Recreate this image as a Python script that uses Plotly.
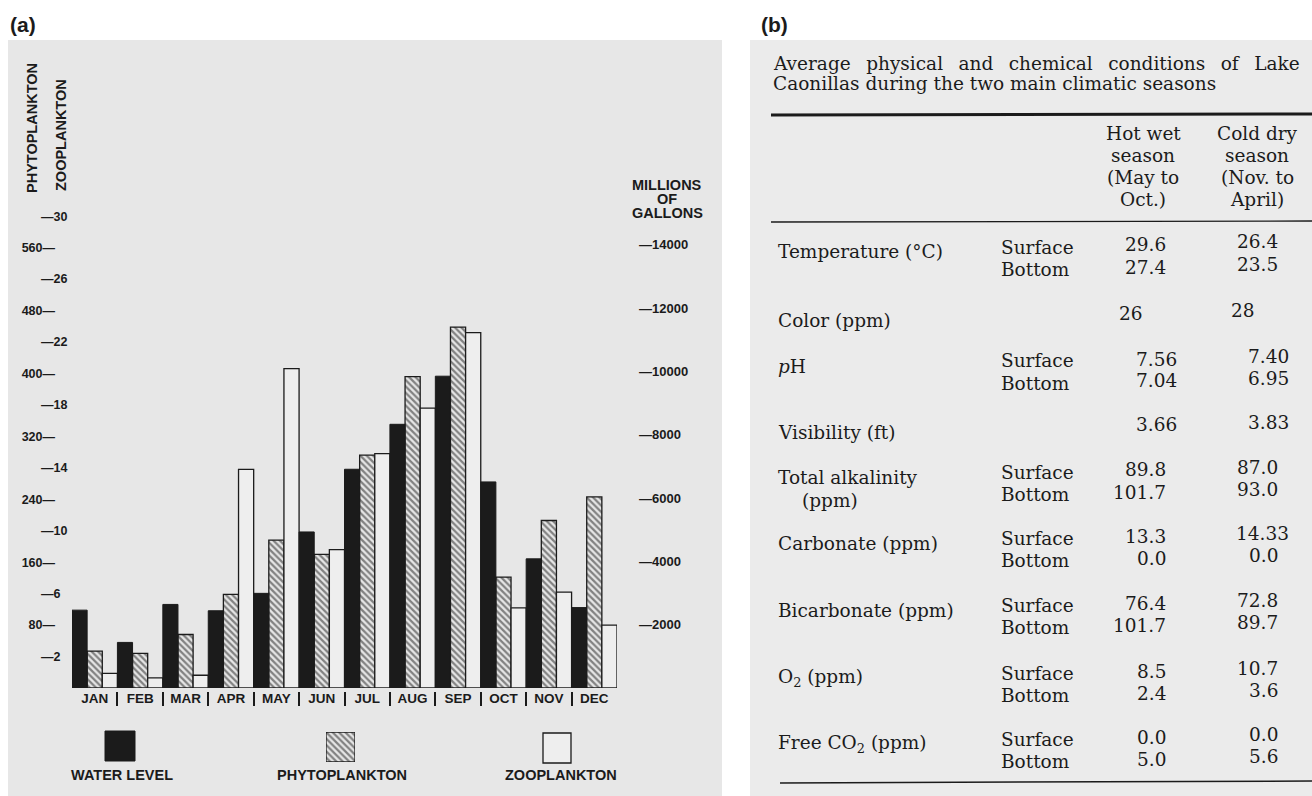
import plotly.graph_objects as go

W, H = 1312, 796

# ---------------- data: panel (a) ----------------
months = ["JAN", "FEB", "MAR", "APR", "MAY", "JUN", "JUL", "AUG", "SEP", "OCT", "NOV", "DEC"]
water_level = [2460, 1440, 2640, 2440, 2990, 4930, 6910, 8330, 9850, 6510, 4080, 2540]   # millions of gallons
phytoplankton = [47, 44, 68, 119, 188, 170, 296, 396, 459, 141, 213, 243]
zooplankton = [0.93, 0.65, 0.81, 13.9, 20.3, 8.8, 14.9, 17.8, 22.6, 5.1, 6.1, 4.0]
phyto_ticks = [80, 160, 240, 320, 400, 480, 560]
zoo_ticks = [2, 6, 10, 14, 18, 22, 26, 30]
water_ticks = [2000, 4000, 6000, 8000, 10000, 12000, 14000]
legend_names = ["WATER LEVEL", "PHYTOPLANKTON", "ZOOPLANKTON"]

# ---------------- data: panel (b) ----------------
table_title = ["Average physical and chemical conditions of Lake",
               "Caonillas during the two main climatic seasons"]
season_headers = [["Hot wet", "season", "(May to", "Oct.)"],
                  ["Cold dry", "season", "(Nov. to", "April)"]]
parameters = [["Temperature (°C)"], ["Color (ppm)"], ["<i>p</i>H"], ["Visibility (ft)"],
              ["Total alkalinity", "(ppm)"], ["Carbonate (ppm)"], ["Bicarbonate (ppm)"],
              ["O<sub>2</sub> (ppm)"], ["Free CO<sub>2</sub> (ppm)"]]
depths = [["Surface", "Bottom"], [], ["Surface", "Bottom"], [], ["Surface", "Bottom"],
          ["Surface", "Bottom"], ["Surface", "Bottom"], ["Surface", "Bottom"], ["Surface", "Bottom"]]
hot_wet = [["29.6", "27.4"], ["26"], ["7.56", "7.04"], ["3.66"], ["89.8", "101.7"],
           ["13.3", "0.0"], ["76.4", "101.7"], ["8.5", "2.4"], ["0.0", "5.0"]]
cold_dry = [["26.4", "23.5"], ["28"], ["7.40", "6.95"], ["3.83"], ["87.0", "93.0"],
            ["14.33", "0.0"], ["72.8", "89.7"], ["10.7", "3.6"], ["0.0", "5.6"]]

# ---------------- style ----------------
SANS = "Liberation Sans"
SERIF = "DejaVu Serif"
INK = "#1b1b1b"
BG_A = "#e7e7e7"
BG_B = "#ebebeb"
ZOO_FILL = "#eeeeee"


def px(x):
    return x / W


def py(y):
    return 1 - y / H


fig = go.Figure()

hatch = dict(shape="\\", fgcolor=INK, size=4.5, solidity=0.5, fillmode="overlay")
bar_w = 1 / 3
fig.add_trace(go.Bar(x=months, y=water_level, yaxis="y3", width=bar_w, offset=-0.5,
                     marker=dict(color=INK, line=dict(color=INK, width=1)), hoverinfo="x+y"))
fig.add_trace(go.Bar(x=months, y=phytoplankton, yaxis="y", width=bar_w, offset=-1 / 6,
                     marker=dict(color=BG_A, line=dict(color=INK, width=1.3), pattern=hatch),
                     hoverinfo="x+y"))
fig.add_trace(go.Bar(x=months, y=zooplankton, yaxis="y2", width=bar_w, offset=1 / 6,
                     marker=dict(color=ZOO_FILL, line=dict(color=INK, width=1.3)), hoverinfo="x+y"))

# month separators ("|") drawn as ticks at the category boundaries
boundaries = [i + 0.5 for i in range(len(months) - 1)]
fig.add_trace(go.Scatter(x=boundaries, y=[0] * len(boundaries), xaxis="x2", yaxis="y",
                         mode="markers", marker=dict(opacity=0), hoverinfo="skip"))

# hatched legend swatch
fig.add_trace(go.Bar(x=[0], y=[1], xaxis="x3", yaxis="y4", width=1,
                     marker=dict(color=BG_A, line=dict(color=INK, width=1.3), pattern=hatch),
                     hoverinfo="skip"))

tick_font = dict(family=SANS, size=12.5, color=INK, weight="bold")
x_dom = [px(72), px(617)]
y_dom = [py(688), py(40)]

fig.update_layout(
    width=W, height=H, margin=dict(l=0, r=0, t=0, b=0),
    paper_bgcolor="white", plot_bgcolor="rgba(0,0,0,0)",
    showlegend=False, barmode="overlay",
    xaxis=dict(domain=x_dom, type="category", categoryorder="array", categoryarray=months,
               range=[-0.5, len(months) - 0.5], tickvals=months, ticktext=months,
               tickfont=dict(family=SANS, size=13.5, color=INK, weight="bold"),
               showgrid=False, zeroline=False, showline=False, ticks="", anchor="y"),
    xaxis2=dict(domain=x_dom, overlaying="x", type="linear", range=[-0.5, len(months) - 0.5],
                anchor="free", position=py(691), tickvals=boundaries, ticks="outside",
                ticklen=14, tickwidth=1.6, tickcolor=INK, showticklabels=False,
                showgrid=False, zeroline=False, showline=False),
    yaxis=dict(domain=y_dom, range=[0, 824], anchor="free", position=px(55), side="left",
               tickvals=phyto_ticks, ticktext=[f"{v}\u2014" for v in phyto_ticks],
               tickfont=tick_font, showgrid=False, zeroline=False, showline=False, ticks=""),
    yaxis2=dict(overlaying="y", range=[0, 41.2], anchor="free", position=px(40), side="right",
                tickvals=zoo_ticks, ticktext=[f"\u2014{v}" for v in zoo_ticks],
                tickfont=tick_font, showgrid=False, zeroline=False, showline=False, ticks=""),
    yaxis3=dict(overlaying="y", range=[0, 20470], anchor="free", position=px(638), side="right",
                tickvals=water_ticks, ticktext=[f"\u2014{v}" for v in water_ticks],
                tickfont=dict(family=SANS, size=13, color=INK, weight="bold"),
                showgrid=False, zeroline=False, showline=False, ticks=""),
    xaxis3=dict(domain=[px(326), px(355)], range=[-0.5, 0.5], anchor="y4", visible=False),
    yaxis4=dict(domain=[py(762), py(732)], range=[0, 1], anchor="x3", visible=False),
)

shapes = []
# panel backgrounds
shapes.append(dict(type="rect", xref="paper", yref="paper", x0=px(8), x1=px(722), y0=py(796), y1=py(40),
                   fillcolor=BG_A, line=dict(width=0), layer="below"))
shapes.append(dict(type="rect", xref="paper", yref="paper", x0=px(750), x1=px(1312), y0=py(796), y1=py(40),
                   fillcolor=BG_B, line=dict(width=0), layer="below"))
# legend swatches (water level, zooplankton)
shapes.append(dict(type="rect", xref="paper", yref="paper", x0=px(105), x1=px(135), y0=py(761), y1=py(731),
                   fillcolor=INK, line=dict(color=INK, width=1)))
shapes.append(dict(type="rect", xref="paper", yref="paper", x0=px(543), x1=px(571), y0=py(763), y1=py(733),
                   fillcolor=ZOO_FILL, line=dict(color=INK, width=1.3)))
# table rules
shapes.append(dict(type="line", xref="paper", yref="paper", x0=px(771), x1=px(1312), y0=py(115), y1=py(114),
                   line=dict(color=INK, width=3)))
shapes.append(dict(type="line", xref="paper", yref="paper", x0=px(771), x1=px(1312), y0=py(222), y1=py(221),
                   line=dict(color=INK, width=1.3)))
shapes.append(dict(type="line", xref="paper", yref="paper", x0=px(780), x1=px(1312), y0=py(783), y1=py(781),
                   line=dict(color=INK, width=1.5)))

ann = []


def note(text, x, y, size, family=SANS, xanchor="center", bold=True, angle=0):
    ann.append(dict(text=text, x=px(x), y=py(y), xref="paper", yref="paper", xanchor=xanchor,
                    yanchor="middle", showarrow=False, textangle=angle,
                    font=dict(family=family, size=size, color=INK, weight="bold" if bold else "normal")))


# panel labels
note("(a)", 8, 25, 21, xanchor="left")
note("(b)", 759, 25, 21, xanchor="left")
# axis titles
note("PHYTOPLANKTON", 32, 128, 14.5, angle=-90)
note("ZOOPLANKTON", 61, 135, 14.5, angle=-90)
for i, w in enumerate(["MILLIONS", "OF", "GALLONS"]):
    note(w, 667, 185 + 14 * i, 14.5)
# legend labels
for name, cx in zip(legend_names, [122, 342, 561]):
    note(name, cx, 775, 14.5)

# ---------- table (b) ----------
TS = 18.5
# first title line is set justified in the original: widen the word gaps
gap = " \u00a0\u2009"
note(gap.join(table_title[0].split(" ")), 771, 63, TS, family=SERIF, xanchor="left", bold=False)
note(table_title[1], 771, 83, TS, family=SERIF, xanchor="left", bold=False)
for col_cx, lines in zip([1143, 1257], season_headers):
    for j, line in enumerate(lines):
        note(line, col_cx, 133 + 22.3 * j, TS, family=SERIF, bold=False)

row_y = [247, 315, 361, 427, 472, 538, 605, 673, 739]
col_right = [1168, 1280]


def value_x(col, s):
    nd = len(s.split(".")[1]) if "." in s else 0
    if nd == 0:
        return col - 23
    return col + 11 * (nd - 1)


for k, y in enumerate(row_y):
    for j, line in enumerate(parameters[k]):
        note(line, 776 + (24 if j else 0), y + 5 + 23 * j, TS, family=SERIF, xanchor="left", bold=False)
    for j, d in enumerate(depths[k]):
        note(d, 999, y + 22 * j, TS, family=SERIF, xanchor="left", bold=False)
    for j, v in enumerate(hot_wet[k]):
        note(v, value_x(col_right[0], v), y - 2 + 22 * j, TS, family=SERIF, xanchor="right", bold=False)
    for j, v in enumerate(cold_dry[k]):
        note(v, value_x(col_right[1], v), y - 5 + 22 * j, TS, family=SERIF, xanchor="right", bold=False)

fig.update_layout(shapes=shapes, annotations=ann)
# remove the default page margin so the figure fills the 1312x796 window exactly
fig.write_html("out.html", config={"displayModeBar": False},
               post_script="document.body.style.margin='0px';")
